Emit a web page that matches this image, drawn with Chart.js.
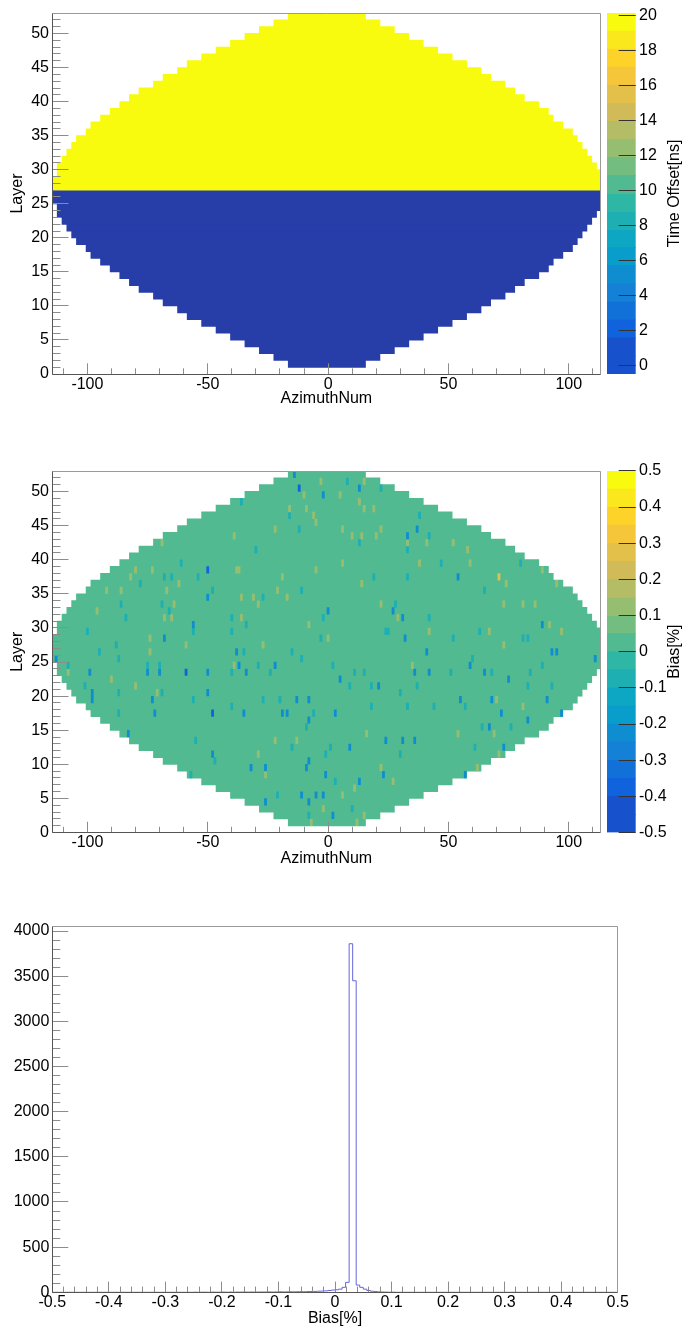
<!DOCTYPE html>
<html>
<head>
<meta charset="utf-8">
<title>Time offset and bias per cell</title>
<script src="https://cdn.jsdelivr.net/npm/chart.js@4.4.1/dist/chart.umd.min.js"></script>
<style>
  html, body { margin: 0; padding: 0; background: #fff; }
  body { position: relative; width: 684px; height: 1330px; overflow: hidden; }
  canvas { position: absolute; }
</style>
</head>
<body>
<canvas id="offsetMap" width="606" height="410" style="left:0;top:0"></canvas>
<canvas id="offsetScale" width="84" height="410" style="left:600px;top:0"></canvas>
<canvas id="biasMap" width="606" height="412" style="left:0;top:458px"></canvas>
<canvas id="biasScale" width="84" height="412" style="left:600px;top:458px"></canvas>
<canvas id="biasHist" width="684" height="450" style="left:0;top:880px"></canvas>
<script>
// Layers and the first / last azimuth cell that is filled in each of them
const layers = [
  1, 2, 3, 4, 5, 6, 7, 8, 9, 10, 11, 12, 13, 14, 15, 16, 17, 18, 19, 20, 21, 22, 23, 24, 25, 26,
  27, 28, 29, 30, 31, 32, 33, 34, 35, 36, 37, 38, 39, 40, 41, 42, 43, 44, 45, 46, 47, 48, 49, 50, 51, 52
];
const cellFirst = [
  -16, -22, -28, -34, -40, -46, -52, -58, -62, -68, -72, -78, -82, -86, -90, -94, -98, -100, -104, -106, -108, -110, -112, -112, -114, -114,
  -114, -114, -112, -112, -110, -108, -106, -104, -100, -98, -94, -90, -86, -82, -78, -72, -68, -62, -58, -52, -46, -40, -34, -28, -22, -16
];
const cellLast = [
  15, 21, 27, 33, 39, 45, 51, 57, 63, 67, 73, 77, 81, 87, 91, 93, 97, 101, 103, 105, 107, 109, 111, 113, 113, 113,
  113, 113, 113, 111, 109, 107, 105, 103, 101, 97, 93, 91, 87, 81, 77, 73, 67, 63, 57, 51, 45, 39, 33, 27, 21, 15
];

// Time offset [ns] of each layer
const timeOffset = [
  0, 0, 0, 0, 0, 0, 0, 0, 0, 0, 0, 0, 0, 0, 0, 0, 0, 0, 0, 0, 0, 0, 0, 0, 0, 0,
  20, 20, 20, 20, 20, 20, 20, 20, 20, 20, 20, 20, 20, 20, 20, 20, 20, 20, 20, 20, 20, 20, 20, 20, 20, 20
];

// Bias [%]: common value of the cells, then the cells that stand out (one list per layer, layer 1 first)
const biasCommon = 0.03;
const speckCells = [
  [-7, 12], [-8, 2, 15], [-2, 10], [-26, -8], [-21, -11, -5, -2, 6], [11], [3, 13, 27],
  [-57, -26, -1, 23, 57], [-32, -26, -9, 22, 62], [-47, -8], [-48, -29, -1, 30, 71],
  [-15, 1, 9, 61, 73], [-55, -22, -13, 24, 31, 36], [-83, 16, 54, 69], [-9, 64, 67, 76], [-8, 83],
  [-87, -72, -48, -35, -19, -17, -6, 3, 72, 97], [-40, 18, 33, 44, 57, 81],
  [-98, -73, -56, -27, -20, -13, -8, 55, 68, 70, 91], [-98, -87, -71, -69, -50, 30],
  [-101, -80, 9, 18, 21, 37, 83, 93], [-90, 5, 75],
  [-108, -99, -75, -70, -59, -50, -40, -34, -24, 11, 15, 36, 42, 51, 65, 68, 84],
  [-108, -75, -70, -39, -37, -29, -22, 2, 35, 59, 89], [-113, -87, -11, 60, 111],
  [-95, -74, -38, -35, -15, 41, 93, 95], [-88, -59, -27, 73], [-74, -68, -3, 0, 32, 52, 81, 83],
  [-100, -56, -40, 24, 25, 42, 63, 67, 97], [-56, -34, -8, 89, 92],
  [-84, -68, -65, -40, -36, -2, 29, 31, 42], [-96, -66, 0, 27],
  [-86, -69, -64, -29, 22, 28, 73, 81, 86], [-50, -36, -31, -27, -17],
  [-92, -86, -67, -48, -21, -11, 65], [-78, -62, 14, 74, 95],
  [-82, -68, -65, -54, -19, 19, 33, 54, 71], [-80, -73, -50, -38, -37, -5, 89],
  [-61, 6, 38, 47, 59, 80], [], [-30, 33, 58], [-69, 13, 33, 41, 52], [-39, 10, 14, 20, 33, 42],
  [-22, -12, 6, 22, 37], [-5], [-16, -6, 38], [-16, -9, 15, 19], [-36, 13], [-10, -2, 5],
  [-12, 13, 22], [-3, 8, 15], [-14]
];
const speckBias = [
  [0.13, 0.13], [-0.07, -0.22, 0.13], [0.13, -0.07], [-0.22, -0.22], [-0.07, -0.22, -0.22, -0.22, 0.13], [0.13], [-0.07, -0.22, 0.13],
  [-0.07, 0.13, -0.22, -0.22, -0.22], [-0.22, -0.22, -0.22, 0.13, 0.13], [-0.07, -0.22], [-0.22, 0.13, -0.07, -0.07, 0.13],
  [-0.07, -0.07, -0.22, -0.07, -0.22], [-0.07, 0.13, 0.13, -0.22, -0.22, -0.22], [-0.22, 0.13, 0.13, 0.13], [-0.07, -0.07, -0.22, -0.07], [-0.22, -0.22],
  [-0.07, -0.22, -0.37, -0.22, -0.22, -0.22, -0.07, -0.22, -0.22, -0.22], [-0.07, -0.07, -0.07, -0.07, -0.07, 0.13],
  [-0.22, -0.22, -0.07, -0.07, -0.07, -0.22, -0.22, -0.22, -0.22, 0.13, -0.22], [-0.22, -0.07, 0.13, -0.07, -0.22, -0.07],
  [-0.07, 0.13, -0.07, -0.07, -0.22, -0.07, -0.07, -0.07], [0.13, -0.22, -0.22],
  [0.13, -0.22, -0.22, -0.22, -0.37, -0.22, -0.07, -0.22, -0.07, -0.07, -0.07, -0.22, -0.22, -0.07, -0.22, -0.07, -0.07],
  [-0.07, -0.07, -0.07, 0.13, -0.22, -0.07, -0.22, -0.07, 0.13, -0.22, -0.07], [-0.22, -0.07, -0.07, -0.07, -0.22],
  [-0.07, 0.13, -0.22, -0.07, -0.07, -0.22, -0.22, -0.22], [-0.07, 0.13, 0.13, 0.13], [0.13, -0.22, -0.07, 0.13, -0.22, -0.07, -0.07, -0.07],
  [-0.07, -0.07, -0.07, -0.07, -0.07, 0.13, -0.07, 0.13, 0.13], [-0.22, -0.07, 0.13, -0.22, 0.13],
  [-0.07, 0.13, 0.13, -0.07, 0.13, -0.07, 0.13, -0.22, -0.07], [0.13, -0.07, -0.22, -0.22],
  [-0.07, -0.07, 0.13, 0.13, 0.13, -0.07, 0.13, 0.13, 0.13], [-0.22, 0.13, 0.13, -0.07, 0.13],
  [0.13, 0.13, 0.13, -0.07, 0.13, -0.07, -0.07], [-0.07, 0.13, 0.13, 0.13, 0.13],
  [0.13, -0.07, -0.07, -0.07, 0.13, -0.07, -0.07, -0.22, 0.27], [0.13, 0.13, -0.37, 0.13, 0.13, 0.13, 0.13],
  [-0.07, 0.13, 0.13, -0.07, 0.13, -0.07], [], [-0.07, -0.07, 0.13], [0.13, -0.07, 0.13, 0.13, 0.13], [0.13, 0.13, 0.13, 0.13, -0.22, -0.07],
  [0.13, -0.07, 0.13, 0.13, -0.22], [0.13], [-0.07, 0.13, -0.07], [0.13, 0.13, 0.13, 0.13], [-0.07, 0.13], [0.13, -0.22, 0.13],
  [-0.37, -0.22, -0.07], [0.13, -0.07, 0.13], [-0.22]
];

// Bias histogram: 160 bins over [-0.5, 0.5]
const histMin = -0.5;
const histBinWidth = 0.00625;
const histCounts = [
  0, 0, 0, 0, 0, 0, 0, 0, 0, 0, 0, 0, 0, 0, 0, 0, 0, 0, 0, 0,
  0, 0, 0, 0, 0, 0, 0, 0, 0, 0, 0, 0, 0, 0, 0, 0, 0, 0, 0, 0,
  1, 0, 1, 1, 0, 2, 1, 1, 2, 1, 2, 1, 2, 2, 3, 2, 3, 2, 3, 3,
  3, 4, 3, 4, 5, 4, 5, 6, 5, 6, 7, 6, 8, 9, 10, 12, 14, 16, 20, 25,
  28, 35, 55, 110, 3860, 3450, 80, 55, 35, 20, 12, 8, 5, 3, 2, 1, 1, 0, 0, 0,
  0, 0, 0, 0, 0, 0, 0, 0, 0, 0, 0, 0, 0, 0, 0, 0, 0, 0, 0, 0,
  0, 0, 0, 0, 0, 0, 0, 0, 0, 0, 0, 0, 0, 0, 0, 0, 0, 0, 0, 0,
  0, 0, 0, 0, 0, 0, 0, 0, 0, 0, 0, 0, 0, 0, 0, 0, 0, 0, 0, 0
];

// Axis ranges and tick labels
const azMin = -114.5, azMax = 113.1;
const azTicks = [-100, -50, 0, 50, 100];
const layerTicks = [0, 5, 10, 15, 20, 25, 30, 35, 40, 45, 50];
const offsetRange = [-0.47, 20.17];
const offsetTicks = [0, 2, 4, 6, 8, 10, 12, 14, 16, 18, 20];
const biasRange = [-0.5, 0.5];
const biasTicks = [-0.5, -0.4, -0.3, -0.2, -0.1, 0, 0.1, 0.2, 0.3, 0.4, 0.5];
const countTicks = [0, 500, 1000, 1500, 2000, 2500, 3000, 3500, 4000];

const FONT = "'Liberation Sans', Arial, Helvetica, sans-serif";
Chart.defaults.font.family = FONT;
Chart.defaults.font.size = 16;
Chart.defaults.color = '#000';
Chart.defaults.animation = false;
Chart.defaults.plugins.legend.display = false;
Chart.defaults.plugins.tooltip.enabled = false;

// ROOT "kBird" palette, 20 contour levels
const birdStops = [0, 0.125, 0.25, 0.375, 0.5, 0.625, 0.75, 0.875, 1];
const birdR = [0.2082, 0.0592, 0.0780, 0.0232, 0.1802, 0.5301, 0.8186, 0.9956, 0.9764];
const birdG = [0.1664, 0.3599, 0.5041, 0.6419, 0.7178, 0.7492, 0.7328, 0.7862, 0.9832];
const birdB = [0.5293, 0.8684, 0.8385, 0.7914, 0.6425, 0.4662, 0.3499, 0.1968, 0.0539];
const N_LEVELS = 20;

function bird(t) {
  let k = 0;
  while (k < birdStops.length - 2 && t > birdStops[k + 1]) k++;
  const f = (t - birdStops[k]) / (birdStops[k + 1] - birdStops[k]);
  const c = ch => Math.round(255 * (ch[k] + f * (ch[k + 1] - ch[k])));
  return `rgb(${c(birdR)},${c(birdG)},${c(birdB)})`;
}
const levelColorAt = i => bird(Math.floor((i + 0.99) * 255 / N_LEVELS) / 254);
function levelColor(v, range) {
  const i = Math.floor((v - range[0]) / (range[1] - range[0]) * N_LEVELS);
  return levelColorAt(Math.min(N_LEVELS - 1, Math.max(0, i)));
}

function steps(from, to, step) {
  const out = [];
  for (let v = from; v <= to + step / 1000; v += step) out.push(Math.round(v * 1000) / 1000);
  return out;
}

// frame and inner tick marks, ROOT style
const rootFrame = {
  id: 'rootFrame',
  afterDatasetsDraw(chart, args, o) {
    const {ctx, chartArea: a} = chart;
    const sx = chart.scales.x, sy = chart.scales.y;
    const snap = p => Math.floor(p) + 0.5;
    ctx.save();
    ctx.lineWidth = 1;
    ctx.strokeStyle = '#8c8c8c';
    ctx.beginPath();
    [[o.xMajor, o.xLen[0]], [o.xMinor, o.xLen[1]]].forEach(([vals, len]) => vals.forEach(v => {
      const px = snap(sx.getPixelForValue(v));
      ctx.moveTo(px, a.bottom); ctx.lineTo(px, a.bottom - len);
    }));
    [[o.yMajor, o.yLen[0]], [o.yMinor, o.yLen[1]]].forEach(([vals, len]) => vals.forEach(v => {
      const py = snap(sy.getPixelForValue(v));
      ctx.moveTo(a.left, py); ctx.lineTo(a.left + len, py);
    }));
    ctx.stroke();
    ctx.strokeStyle = '#999';
    ctx.beginPath();
    ctx.moveTo(snap(a.left), snap(a.top)); ctx.lineTo(snap(a.right), snap(a.top)); ctx.lineTo(snap(a.right), snap(a.bottom));
    ctx.stroke();
    ctx.strokeStyle = '#555';
    ctx.beginPath();
    ctx.moveTo(snap(a.left), snap(a.top)); ctx.lineTo(snap(a.left), snap(a.bottom)); ctx.lineTo(snap(a.right), snap(a.bottom));
    ctx.stroke();
    ctx.restore();
  }
};

// colour scale: ticks from the right edge and a title reading upwards
const paletteAxis = {
  id: 'paletteAxis',
  afterDatasetsDraw(chart, args, o) {
    const {ctx, chartArea: a} = chart;
    const sy = chart.scales.y;
    ctx.save();
    ctx.lineWidth = 1;
    ctx.strokeStyle = '#333';
    ctx.beginPath();
    o.ticks.forEach(v => {
      const py = Math.floor(sy.getPixelForValue(v)) + 0.5;
      ctx.moveTo(a.right, py); ctx.lineTo(a.right - o.tickLength, py);
    });
    ctx.stroke();
    ctx.translate(o.titleX, (a.top + a.bottom) / 2);
    ctx.rotate(-Math.PI / 2);
    ctx.font = `16px ${FONT}`;
    ctx.fillStyle = '#000';
    ctx.textAlign = 'center';
    ctx.textBaseline = 'middle';
    ctx.fillText(o.title, 0, 0);
    ctx.restore();
  }
};

const CANVAS_W = 606, AREA_LEFT = 52.5, AREA_RIGHT = 600.3;
const noGrid = { display: false, drawTicks: false };

function mapChart(id, height, areaTop, areaBottom, datasets) {
  return new Chart(document.getElementById(id), {
    type: 'bar',
    data: { datasets },
    plugins: [rootFrame],
    options: {
      responsive: false,
      indexAxis: 'y',
      layout: { padding: { left: 0, right: CANVAS_W - AREA_RIGHT, top: areaTop, bottom: 0 } },
      scales: {
        x: {
          type: 'linear', min: azMin, max: azMax, offset: false,
          grid: noGrid, border: { display: false },
          afterFit: s => { s.height = height - areaBottom; },
          afterBuildTicks: s => { s.ticks = azTicks.map(v => ({ value: v })); },
          ticks: { autoSkip: false, maxRotation: 0, padding: 0.5, callback: v => String(v) },
          title: { display: true, text: 'AzimuthNum', padding: { top: 0, bottom: 1.5 } }
        },
        y: {
          type: 'linear', min: 0, max: 53, offset: false,
          grid: noGrid, border: { display: false },
          afterFit: s => { s.width = AREA_LEFT; },
          afterBuildTicks: s => { s.ticks = layerTicks.map(v => ({ value: v })); },
          ticks: { autoSkip: false, padding: 3.5, callback: v => String(v) },
          title: { display: true, text: 'Layer', padding: { top: 7.5, bottom: 0 } }
        }
      },
      plugins: {
        rootFrame: {
          xMajor: azTicks, xMinor: steps(-110, 110, 10), xLen: [10.7, 5.7],
          yMajor: layerTicks, yMinor: steps(0, 53, 1), yLen: [16, 8]
        }
      }
    }
  });
}

function scaleChart(id, height, areaTop, areaBottom, range, ticks, title, fmt) {
  const w = (range[1] - range[0]) / N_LEVELS;
  const bands = [];
  for (let i = 0; i < N_LEVELS; i++) {
    bands.push({
      data: [[range[0] + i * w, range[0] + (i + 1) * w]],
      // the lowest box of the drawn scale shows the same blue as the one above it
      backgroundColor: levelColorAt(Math.max(i, 1)),
      grouped: false, barPercentage: 1, categoryPercentage: 1, inflateAmount: 0.3, borderWidth: 0
    });
  }
  return new Chart(document.getElementById(id), {
    type: 'bar',
    data: { labels: [''], datasets: bands },
    plugins: [paletteAxis],
    options: {
      responsive: false,
      layout: { padding: { left: 7, right: 0, top: areaTop, bottom: height - areaBottom } },
      scales: {
        x: { display: false },
        y: {
          type: 'linear', position: 'right', min: range[0], max: range[1],
          grid: noGrid, border: { display: false },
          afterFit: s => { s.width = 84 - 35.7; },
          afterBuildTicks: s => { s.ticks = ticks.map(v => ({ value: v })); },
          ticks: { autoSkip: false, padding: 3.3, callback: fmt }
        }
      },
      plugins: { paletteAxis: { ticks, tickLength: 17, title, titleX: 74.4 } }
    }
  });
}

// time offset map
mapChart('offsetMap', 410, 8.7, 374, [{
  data: layers.map((l, i) => ({ x: [cellFirst[i] - 0.5, cellLast[i] + 0.5], y: l + 0.5 })),
  backgroundColor: timeOffset.map(v => levelColor(v, offsetRange)),
  grouped: false, barPercentage: 1, categoryPercentage: 1, inflateAmount: 0.45, borderWidth: 0
}]);
scaleChart('offsetScale', 410, 8.7, 374, offsetRange, offsetTicks, 'Time Offset[ns]', v => String(v));

// bias map
const speckData = [], speckColors = [];
layers.forEach((l, i) => speckCells[i].forEach((c, j) => {
  speckData.push({ x: [c - 0.5, c + 0.5], y: l + 0.5 });
  speckColors.push(levelColor(speckBias[i][j], biasRange));
}));
mapChart('biasMap', 412, 9.2, 374.5, [
  {
    data: speckData, backgroundColor: speckColors, order: 0,
    grouped: false, barPercentage: 1, categoryPercentage: 1, inflateAmount: 0.2, borderWidth: 0
  },
  {
    data: layers.map((l, i) => ({ x: [cellFirst[i] - 0.5, cellLast[i] + 0.5], y: l + 0.5 })),
    backgroundColor: levelColor(biasCommon, biasRange), order: 1,
    grouped: false, barPercentage: 1, categoryPercentage: 1, inflateAmount: 0.45, borderWidth: 0
  }
]);
scaleChart('biasScale', 412, 9.2, 374.5, biasRange, biasTicks, 'Bias[%]',
  v => String(Math.round(v * 10) / 10));

// bias histogram, drawn as a step outline over the bin edges
const histPoints = histCounts.map((c, j) => ({ x: histMin + j * histBinWidth, y: c }));
histPoints.push({ x: histMin + histCounts.length * histBinWidth, y: histCounts[histCounts.length - 1] });

new Chart(document.getElementById('biasHist'), {
  type: 'line',
  data: {
    datasets: [{
      data: histPoints, stepped: true, borderColor: '#6666dd', borderWidth: 1,
      pointRadius: 0, fill: false, tension: 0
    }]
  },
  plugins: [rootFrame],
  options: {
    responsive: false,
    layout: { padding: { left: 0, right: 684 - 617.7, top: 46.3, bottom: 0 } },
    scales: {
      x: {
        type: 'linear', min: -0.5, max: 0.5,
        grid: noGrid, border: { display: false },
        afterFit: s => { s.height = 450 - 412.3; },
        afterBuildTicks: s => { s.ticks = biasTicks.map(v => ({ value: v })); },
        ticks: { autoSkip: false, maxRotation: 0, padding: 0.5, callback: v => String(Math.round(v * 10) / 10) },
        title: { display: true, text: 'Bias[%]', padding: { top: 0, bottom: 2 } }
      },
      y: {
        type: 'linear', min: 0, max: 4053,
        grid: noGrid, border: { display: false },
        afterFit: s => { s.width = 52.3; },
        afterBuildTicks: s => { s.ticks = countTicks.map(v => ({ value: v })); },
        ticks: { autoSkip: false, padding: 3, callback: v => String(v) }
      }
    },
    plugins: {
      rootFrame: {
        xMajor: biasTicks, xMinor: steps(-0.5, 0.5, 0.02), xLen: [10.7, 5.7],
        yMajor: countTicks, yMinor: steps(0, 4000, 100), yLen: [16, 8]
      }
    }
  }
});
</script>
</body>
</html>
